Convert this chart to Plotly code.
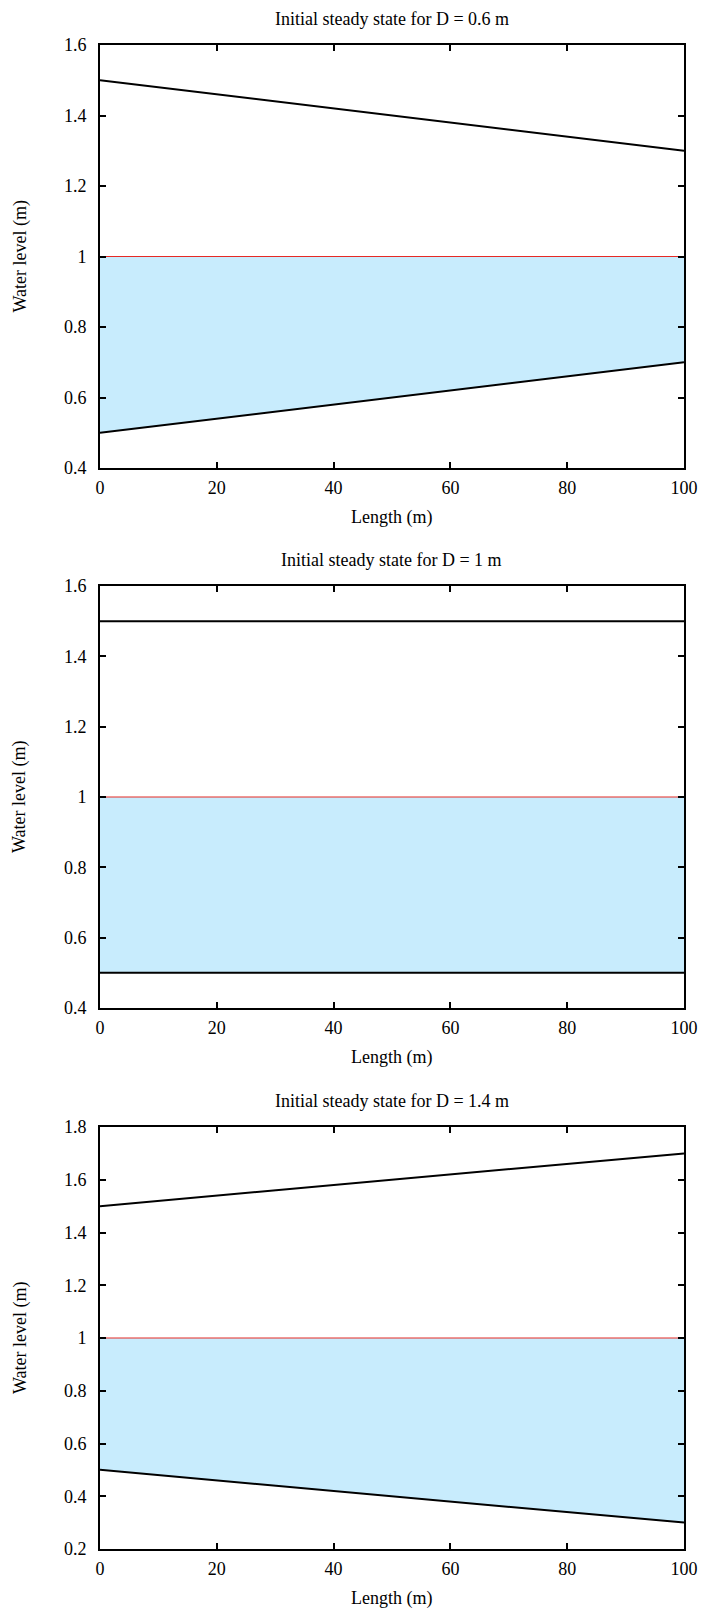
import plotly.graph_objects as go
from plotly.subplots import make_subplots

# Data
length_x = [0, 100]
titles = ["Initial steady state for D = 0.6 m",
          "Initial steady state for D = 1 m",
          "Initial steady state for D = 1.4 m"]
top_lines = [[1.5, 1.3], [1.5, 1.5], [1.5, 1.7]]
bottom_lines = [[0.5, 0.7], [0.5, 0.5], [0.5, 0.3]]
water_level = [1.0, 1.0]
y_ranges = [[0.4, 1.6], [0.4, 1.6], [0.2, 1.8]]
x_ticks = [0, 20, 40, 60, 80, 100]

W, H = 704, 1612
FONT = "Liberation Serif"
FS = 18

# page-pixel boxes (top, bottom)
boxes = [(45, 468), (586, 1008), (1127, 1549)]
x0p, x1p = 100, 684


def px(p):
    return p / W


def py(p):
    return 1 - p / H


fig = make_subplots(rows=3, cols=1)

for i in range(3):
    r = i + 1
    fig.add_trace(go.Scatter(x=length_x, y=bottom_lines[i], mode="lines",
                             line=dict(width=0, color="rgba(0,0,0,0)"),
                             showlegend=False, hoverinfo="skip"), row=r, col=1)
    fig.add_trace(go.Scatter(x=length_x, y=water_level, mode="lines",
                             fill="tonexty", fillcolor="#c8ecfd",
                             line=dict(width=1, color="#e62a25"),
                             showlegend=False), row=r, col=1)
    fig.add_trace(go.Scatter(x=length_x, y=bottom_lines[i], mode="lines",
                             line=dict(width=2, color="black"),
                             showlegend=False), row=r, col=1)
    fig.add_trace(go.Scatter(x=length_x, y=top_lines[i], mode="lines",
                             line=dict(width=2, color="black"),
                             showlegend=False), row=r, col=1)

layout_updates = {}
annotations = []
for i in range(3):
    t, b = boxes[i]
    ydom = [py(b), py(t)]
    xdom = [px(x0p), px(x1p)]
    sfx = "" if i == 0 else str(i + 1)
    layout_updates["xaxis" + sfx] = dict(
        domain=xdom, range=[0, 100], tickvals=x_ticks, automargin=False,
        showline=True, linecolor="black", linewidth=2, mirror="ticks",
        ticks="inside", ticklen=6, tickwidth=1.5, tickcolor="black",
        showgrid=False, zeroline=False, ticklabelstandoff=2,
        tickfont=dict(family=FONT, size=FS, color="black"))
    layout_updates["yaxis" + sfx] = dict(
        domain=ydom, range=y_ranges[i], dtick=0.2, tick0=0, automargin=False,
        showline=True, linecolor="black", linewidth=2, mirror="ticks",
        ticks="inside", ticklen=6, tickwidth=1.5, tickcolor="black",
        showgrid=False, zeroline=False, ticklabelstandoff=8,
        tickfont=dict(family=FONT, size=FS, color="black"))
    cx = px((x0p + x1p) / 2)
    annotations.append(dict(text=titles[i], x=cx, y=py(t - 26),
                            xref="paper", yref="paper", showarrow=False,
                            xanchor="center", yanchor="middle",
                            font=dict(family=FONT, size=FS, color="black")))
    annotations.append(dict(text="Length (m)", x=cx, y=py(b + 49),
                            xref="paper", yref="paper", showarrow=False,
                            xanchor="center", yanchor="middle",
                            font=dict(family=FONT, size=FS, color="black")))
    annotations.append(dict(text="Water level (m)", x=px(20), y=py((t + b) / 2),
                            xref="paper", yref="paper", showarrow=False,
                            textangle=-90, xanchor="center", yanchor="middle",
                            font=dict(family=FONT, size=FS, color="black")))

fig.update_layout(**layout_updates)
fig.update_layout(width=W, height=H, margin=dict(l=0, r=0, t=0, b=0, autoexpand=False),
                  paper_bgcolor="white", plot_bgcolor="white",
                  annotations=annotations, showlegend=False)

fig.write_html("out.html", config={"displayModeBar": False},
               post_script="document.body.style.margin='0';document.body.style.overflow='hidden';")
